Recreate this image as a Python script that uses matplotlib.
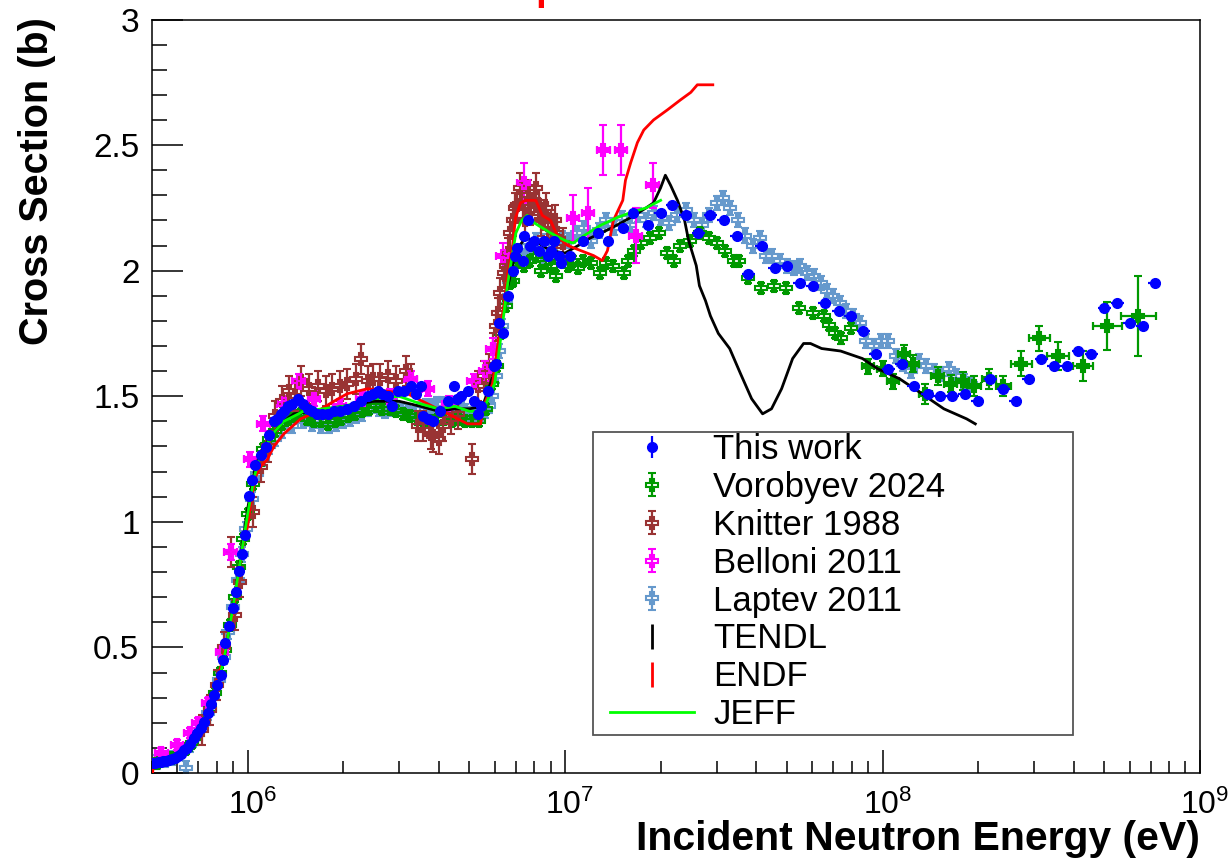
import numpy as np
import matplotlib
matplotlib.use("Agg")
import matplotlib.pyplot as plt
import matplotlib.transforms as mtransforms
from matplotlib.lines import Line2D
from matplotlib.patches import Rectangle
from matplotlib.ticker import LogLocator, MultipleLocator, NullFormatter
from matplotlib.container import ErrorbarContainer
from matplotlib.legend_handler import HandlerErrorbar

plt.rcParams['font.family'] = ['Liberation Sans', 'DejaVu Sans']
plt.rcParams['mathtext.default'] = 'regular'

# energies in MeV, cross sections in barn
this_e = [0.503, 0.512, 0.522, 0.532, 0.543, 0.554, 0.565, 0.577, 0.589, 0.602,
          0.615, 0.629, 0.643, 0.659, 0.676, 0.693, 0.711, 0.729, 0.748, 0.765,
          0.782, 0.804, 0.822, 0.834, 0.852, 0.871, 0.897, 0.917, 0.937, 0.957,
          0.979, 1.007, 1.029, 1.052, 1.099, 1.139, 1.164, 1.21, 1.24, 1.27,
          1.30, 1.34, 1.38, 1.44, 1.50, 1.55, 1.60, 1.66, 1.72, 1.79,
          1.87, 1.96, 2.05, 2.16, 2.27, 2.39, 2.48, 2.57, 2.66, 2.76,
          2.86, 2.97, 3.10, 3.26, 3.40, 3.51, 3.58, 3.70, 3.85, 4.05,
          4.27, 4.46, 4.58, 4.69, 4.93, 5.15, 5.30, 5.42, 5.70, 5.96,
          6.04, 6.18, 6.36, 6.59, 6.84, 6.98, 7.08, 7.35, 7.40, 7.62,
          7.78, 7.96, 8.25, 8.56, 8.81, 9.00, 9.20, 9.55, 9.69, 10.4,
          11.4, 12.7, 13.7, 15.2, 16.4, 18.2, 20.0, 21.8, 24.0, 26.3,
          28.7, 31.6, 34.7, 37.8, 41.6, 45.7, 49.9, 54.8, 60.2, 65.7,
          72.7, 79.3, 87.1, 95.1, 104.4, 114.8, 125.3, 138.6, 151.4, 166.1,
          181.3, 199.2, 218.8, 240.4, 262.4, 288.4, 316.7, 345.8, 380.2, 414,
          455, 500, 549, 600, 659, 719]
this_xs = [0.040, 0.041, 0.043, 0.044, 0.046, 0.049, 0.052, 0.056, 0.061, 0.067,
           0.075, 0.092, 0.100, 0.115, 0.139, 0.158, 0.179, 0.205, 0.239, 0.275,
           0.311, 0.351, 0.390, 0.450, 0.518, 0.586, 0.657, 0.721, 0.805, 0.873,
           0.948, 1.104, 1.167, 1.227, 1.267, 1.299, 1.347, 1.40, 1.41, 1.43,
           1.44, 1.46, 1.47, 1.49, 1.47, 1.45, 1.44, 1.43, 1.43, 1.43,
           1.44, 1.44, 1.45, 1.46, 1.48, 1.50, 1.51, 1.52, 1.51, 1.50,
           1.46, 1.52, 1.52, 1.54, 1.51, 1.54, 1.42, 1.41, 1.40, 1.44,
           1.48, 1.54, 1.49, 1.50, 1.52, 1.48, 1.43, 1.46, 1.52, 1.62,
           1.63, 1.79, 1.75, 1.90, 2.00, 2.06, 2.09, 2.04, 2.14, 2.20,
           2.10, 2.12, 2.08, 2.12, 2.06, 2.08, 2.12, 2.06, 2.03, 2.06,
           2.12, 2.15, 2.12, 2.17, 2.23, 2.18, 2.23, 2.26, 2.22, 2.15,
           2.22, 2.20, 2.14, 1.985, 2.10, 2.01, 2.02, 1.95, 1.94, 1.87,
           1.84, 1.82, 1.76, 1.67, 1.61, 1.63, 1.54, 1.51, 1.50, 1.50,
           1.51, 1.48, 1.57, 1.53, 1.48, 1.57, 1.65, 1.62, 1.62, 1.68,
           1.67, 1.85, 1.87, 1.79, 1.78, 1.95]
this_err = 0.015

vor_e = [0.52, 0.55, 0.58, 0.61, 0.64, 0.67, 0.70, 0.73, 0.76, 0.79,
         0.82, 0.85, 0.88, 0.91, 0.94, 0.97, 1.00, 1.04, 1.08, 1.12,
         1.17, 1.22, 1.28, 1.34, 1.40, 1.47, 1.54, 1.62, 1.70, 1.79,
         1.88, 1.97, 2.07, 2.18, 2.29, 2.41, 2.53, 2.66, 2.80, 2.94,
         3.09, 3.25, 3.42, 3.59, 3.78, 3.97, 4.17, 4.39, 4.61, 4.85,
         5.10, 5.36, 5.63, 5.90, 6.10, 6.30, 6.50, 6.70, 6.88, 7.13,
         7.45, 7.78, 8.10, 8.37, 8.70, 9.00, 9.35, 9.69, 10.2, 10.6,
         11.0, 11.4, 12.1, 12.9, 13.5, 14.2, 15.3, 15.8, 16.5, 17.3,
         18.5, 19.7, 21.0, 22.0, 23.1, 24.8, 26.7, 28.5, 30.2, 32.0,
         34.0, 35.2, 37.8, 41.3, 45.4, 49.5, 54.4, 60.2, 65.2, 67.6,
         71.1, 73.8, 79.3, 89.7, 100.7, 108, 116.5, 125, 136.5, 149,
         164, 179, 194, 216, 240, 274, 312, 358, 427, 511,
         640]
vor_xs = [0.04, 0.05, 0.06, 0.075, 0.095, 0.12, 0.155, 0.20, 0.255, 0.32,
          0.40, 0.49, 0.59, 0.70, 0.82, 0.93, 1.03, 1.15, 1.23, 1.29,
          1.33, 1.36, 1.39, 1.41, 1.42, 1.43, 1.41, 1.40, 1.40, 1.39,
          1.40, 1.41, 1.42, 1.43, 1.44, 1.45, 1.46, 1.45, 1.45, 1.44,
          1.43, 1.42, 1.41, 1.40, 1.40, 1.41, 1.41, 1.40, 1.41, 1.40,
          1.40, 1.40, 1.45, 1.55, 1.62, 1.75, 1.86, 1.95, 1.96, 2.04,
          2.02, 2.04, 2.06, 2.00, 2.03, 2.02, 1.98, 2.04, 2.02, 2.04,
          2.01, 2.04, 2.03, 1.99, 2.03, 2.02, 1.99, 2.04, 2.08, 2.11,
          2.13, 2.15, 2.07, 2.04, 2.10, 2.12, 2.15, 2.13, 2.11, 2.08,
          2.04, 2.04, 1.97, 1.93, 1.94, 1.93, 1.85, 1.83, 1.82, 1.785,
          1.75, 1.73, 1.77, 1.62, 1.61, 1.56, 1.67, 1.63, 1.51, 1.58,
          1.55, 1.56, 1.54, 1.57, 1.54, 1.63, 1.73, 1.66, 1.62, 1.78,
          1.82]
vor_err_high = [0.03, 0.03, 0.03, 0.035, 0.035, 0.04, 0.035, 0.035, 0.035, 0.04,
                0.04, 0.04, 0.05, 0.05, 0.055, 0.06, 0.095, 0.16]
# half width of the energy bins (decades) for the points above 80 MeV
vor_hw_high = [0.019, 0.019, 0.019, 0.019, 0.019, 0.02, 0.02, 0.02, 0.02, 0.022,
               0.022, 0.024, 0.032, 0.032, 0.035, 0.032, 0.046, 0.054]
vor_err = [0.02] * (len(vor_e) - len(vor_err_high)) + vor_err_high

kn_e = [0.72, 0.76, 0.80, 0.84, 0.885, 0.91, 0.95, 1.04, 1.10, 1.16,
        1.22, 1.28, 1.35, 1.41, 1.47, 1.56, 1.67, 1.76, 1.85, 1.96,
        2.06, 2.19, 2.27, 2.39, 2.49, 2.62, 2.76, 2.93, 3.15, 3.26,
        3.43, 3.58, 3.77, 3.85, 4.00, 4.14, 4.36, 4.59, 5.11, 5.30,
        5.54, 5.74, 5.95, 6.13, 6.26, 6.40, 6.59, 6.73, 6.88, 7.08,
        7.35, 7.62, 7.78, 7.96, 8.25, 8.56, 8.81, 9.14, 9.45, 9.82,
        6.05, 6.50, 6.95, 7.20, 7.50, 8.10, 8.40, 8.70, 9.00, 9.30]
kn_xs = [0.17, 0.25, 0.35, 0.50, 0.88, 0.63, 0.76, 1.04, 1.22, 1.30,
         1.42, 1.48, 1.52, 1.50, 1.56, 1.53, 1.54, 1.52, 1.53, 1.54,
         1.55, 1.57, 1.65, 1.56, 1.57, 1.57, 1.58, 1.56, 1.60, 1.57,
         1.38, 1.38, 1.35, 1.34, 1.33, 1.38, 1.41, 1.43, 1.25, 1.54,
         1.58, 1.61, 1.69, 1.83, 1.91, 1.99, 2.07, 2.15, 2.20, 2.26,
         2.27, 2.30, 2.24, 2.28, 2.26, 2.22, 2.18, 2.14, 2.15, 2.11,
         1.78, 2.02, 2.25, 2.33, 2.20, 2.33, 2.20, 2.25, 2.18, 2.20]
kn_err = 0.06

bel_e = [0.535, 0.60, 0.66, 0.70, 0.75, 0.83, 0.885, 1.02, 1.12, 1.30,
         1.45, 1.62, 1.95, 2.30, 2.80, 3.26, 3.70, 4.30, 5.15, 5.60,
         5.91, 6.36, 7.40, 10.6, 11.8, 13.2, 15.0, 16.7, 18.9]
bel_xs = [0.08, 0.11, 0.16, 0.20, 0.28, 0.48, 0.88, 1.25, 1.39, 1.47,
          1.56, 1.49, 1.46, 1.49, 1.50, 1.57, 1.53, 1.47, 1.56, 1.60,
          1.69, 2.06, 2.35, 2.21, 2.23, 2.48, 2.48, 2.14, 2.34]
bel_err = [0.02, 0.02, 0.02, 0.02, 0.02, 0.02, 0.03, 0.03, 0.03, 0.03,
           0.03, 0.03, 0.03, 0.03, 0.03, 0.03, 0.03, 0.03, 0.03, 0.04,
           0.04, 0.05, 0.08, 0.09, 0.10, 0.10, 0.10, 0.11, 0.09]

lap_e = [0.52, 0.55, 0.58, 0.61, 0.64, 0.66, 0.69, 0.72, 0.75, 0.78,
         0.81, 0.84, 0.87, 0.90, 0.93, 0.96, 0.99, 1.03, 1.07, 1.12,
         1.17, 1.22, 1.28, 1.38, 1.50, 1.60, 1.70, 1.80, 1.90, 2.0,
         2.1, 2.2, 2.3, 2.4, 2.5, 2.6, 2.7, 2.8, 2.9, 3.05,
         3.2, 3.35, 3.5, 3.65, 3.8, 3.95, 4.1, 4.25, 4.4, 4.55,
         4.7, 4.85, 5.0, 5.15, 5.3, 5.45, 5.6, 5.75, 5.9, 6.05,
         6.2, 6.35, 6.5, 6.65, 6.8, 6.95, 7.2, 7.5, 7.8, 8.1,
         8.5, 8.9, 9.3, 9.8, 10.3, 10.9, 11.5, 12.1, 12.8, 13.5,
         14.3, 15.1, 16.0, 17.0, 18.0, 19.0, 20.0, 21.2, 22.5, 24.0,
         25.5, 27.0, 28.5, 30.0, 31.5, 33.0, 35.0, 37.0, 39.0, 41.0,
         43, 45, 47.5, 50, 52.5, 55, 58, 61, 64, 67,
         70, 73.5, 77, 81, 85, 89, 94, 99, 104, 110,
         116, 123, 130, 137, 145, 153, 162, 171, 180, 190]
lap_xs = [0.045, 0.05, 0.06, 0.08, 0.02, 0.11, 0.14, 0.19, 0.24, 0.30,
          0.37, 0.46, 0.56, 0.66, 0.77, 0.87, 0.97, 1.09, 1.19, 1.25,
          1.30, 1.33, 1.36, 1.38, 1.40, 1.39, 1.38, 1.38, 1.39, 1.40,
          1.41, 1.42, 1.43, 1.45, 1.46, 1.45, 1.44, 1.45, 1.46, 1.45,
          1.44, 1.43, 1.45, 1.46, 1.46, 1.47, 1.47, 1.45, 1.44, 1.45,
          1.45, 1.44, 1.43, 1.42, 1.42, 1.43, 1.44, 1.46, 1.50, 1.58,
          1.68, 1.78, 1.88, 1.96, 2.03, 2.07, 2.08, 2.05, 2.10, 2.12,
          2.06, 2.14, 2.10, 2.13, 2.12, 2.15, 2.17, 2.12, 2.16, 2.20,
          2.17, 2.21, 2.18, 2.22, 2.20, 2.23, 2.21, 2.19, 2.22, 2.24,
          2.20, 2.18, 2.22, 2.27, 2.29, 2.25, 2.20, 2.14, 2.10, 2.13,
          2.06, 2.06, 2.04, 2.02, 2.01, 2.02, 1.99, 1.98, 1.95, 1.92,
          1.90, 1.87, 1.84, 1.82, 1.79, 1.72, 1.70, 1.72, 1.72, 1.66,
          1.63, 1.60, 1.64, 1.62, 1.60, 1.59, 1.61, 1.58, 1.56, 1.55]
lap_err = 0.028

tendl_e = [0.5, 0.55, 0.6, 0.65, 0.7, 0.75, 0.8, 0.85, 0.9, 0.95,
           1.0, 1.05, 1.1, 1.2, 1.3, 1.4, 1.6, 1.8, 2.0, 2.5,
           3.0, 3.5, 4.0, 4.5, 5.0, 5.5, 6.0, 6.5, 7.0, 7.5,
           8, 9, 10, 11, 12, 13, 14, 15, 16, 17,
           18, 19, 20, 20.7, 21.5, 22.6, 23.8, 24.5, 25.9, 26.5,
           27.7, 28.7, 30.4, 33.0, 35.7, 38.7, 41.9, 44.7, 48.1, 52.1,
           56.4, 59.3, 64.3, 73.8, 86.5, 96.4, 113, 133, 156, 184,
           196]
tendl_xs = [0.03, 0.045, 0.065, 0.10, 0.15, 0.23, 0.33, 0.48, 0.66, 0.86,
            1.05, 1.20, 1.28, 1.35, 1.40, 1.43, 1.44, 1.45, 1.46, 1.48,
            1.48, 1.46, 1.44, 1.45, 1.45, 1.46, 1.60, 1.90, 2.08, 2.13,
            2.12, 2.08, 2.07, 2.10, 2.13, 2.15, 2.17, 2.19, 2.21, 2.23,
            2.25, 2.27, 2.33, 2.38, 2.34, 2.28, 2.20, 2.12, 2.02, 1.94,
            1.88, 1.82, 1.75, 1.69, 1.59, 1.49, 1.43, 1.45, 1.53, 1.65,
            1.71, 1.71, 1.69, 1.68, 1.65, 1.61, 1.57, 1.51, 1.45, 1.41,
            1.39]

endf_e = [0.502, 0.505, 0.544, 0.629, 0.696, 0.748, 0.793, 0.834, 0.871, 0.904,
          0.937, 0.971, 1.0, 1.03, 1.06, 1.10, 1.156, 1.21, 1.30, 1.47,
          1.66, 1.87, 2.06, 2.39, 2.76, 3.19, 3.69, 4.27, 4.93, 5.42,
          5.54, 5.91, 6.04, 6.18, 6.40, 6.59, 6.84, 6.98, 7.24, 7.52,
          8.09, 8.48, 9.0, 9.45, 10.2, 11.2, 12.3, 13.1, 13.6, 14.2,
          15.2, 15.5, 16.1, 16.9, 17.7, 19.0, 21.0, 23.1, 24.9, 26.1,
          29.2]
endf_xs = [0.0, 0.03, 0.05, 0.09, 0.14, 0.21, 0.34, 0.45, 0.56, 0.65,
           0.80, 0.92, 0.98, 1.10, 1.18, 1.22, 1.25, 1.30, 1.35, 1.41,
           1.44, 1.48, 1.51, 1.53, 1.52, 1.51, 1.47, 1.43, 1.39, 1.39,
           1.46, 1.55, 1.64, 1.73, 1.85, 1.98, 2.10, 2.21, 2.27, 2.28,
           2.28, 2.22, 2.20, 2.14, 2.10, 2.08, 2.06, 2.04, 2.08, 2.20,
           2.28, 2.36, 2.43, 2.51, 2.56, 2.60, 2.64, 2.68, 2.71, 2.74,
           2.74]

jeff_e = [0.5, 0.6, 0.7, 0.8, 0.85, 0.9, 0.95, 1.0, 1.05, 1.1,
          1.2, 1.3, 1.5, 2.0, 2.5, 3.0, 3.5, 4.0, 4.5, 5.0,
          5.5, 6.0, 6.3, 6.6, 7.0, 7.3, 7.6, 8.0, 9.0, 10.0,
          10.6, 11.5, 12.9, 14.5, 16.0, 18.0, 20.0]
jeff_xs = [0.035, 0.07, 0.16, 0.33, 0.48, 0.66, 0.85, 1.03, 1.18, 1.27,
           1.35, 1.40, 1.44, 1.46, 1.49, 1.50, 1.47, 1.45, 1.46, 1.44,
           1.44, 1.55, 1.75, 1.95, 2.15, 2.20, 2.22, 2.19, 2.15, 2.12,
           2.11, 2.14, 2.18, 2.21, 2.23, 2.25, 2.28]

y_ticks = [0, 0.5, 1, 1.5, 2, 2.5, 3]
y_labels = ["0", "0.5", "1", "1.5", "2", "2.5", "3"]

MEV = 1e6


def log_xerr(e, hw):
    e = np.asarray(e, dtype=float)
    hw = np.asarray(hw, dtype=float)
    return [e * (1 - 10 ** -hw), e * (10 ** hw - 1)]


fig = plt.figure(figsize=(12.29, 8.59), dpi=100)
ax = fig.add_axes([152 / 1229, 1 - 773 / 859, 1048 / 1229, 753.5 / 859])

green = "#009900"
brown = "#993333"
magenta = "#ff00ff"
steel = "#6699cc"


def exp_set(e, xs, err, color, label, z):
    return ax.errorbar(np.array(e) * MEV, xs, yerr=err, fmt="P", ms=9,
                       mfc="none", mec=color, mew=1.5, ecolor=color,
                       elinewidth=1.6, capsize=3, capthick=1.6,
                       label=label, zorder=z)


h_lap = exp_set(lap_e, lap_xs, lap_err, steel, "Laptev 2011", 2.0)
h_vor = exp_set(vor_e, vor_xs, vor_err, green, "Vorobyev 2024", 2.1)
n_hi = len(vor_hw_high)
ax.errorbar(np.array(vor_e[-n_hi:]) * MEV, vor_xs[-n_hi:],
            xerr=log_xerr(np.array(vor_e[-n_hi:]) * MEV, vor_hw_high),
            fmt="none", ecolor=green, elinewidth=1.6, capsize=3, capthick=1.6,
            zorder=2.1)
h_kn = exp_set(kn_e, kn_xs, kn_err, brown, "Knitter 1988", 2.2)
h_bel = exp_set(bel_e, bel_xs, bel_err, magenta, "Belloni 2011", 2.3)
ax.errorbar(np.array(bel_e) * MEV, bel_xs,
            xerr=log_xerr(np.array(bel_e) * MEV, 0.02),
            fmt="none", ecolor=magenta, elinewidth=1.6, capsize=3,
            capthick=1.6, zorder=2.3)

ax.plot(np.array(tendl_e) * MEV, tendl_xs, color="black", lw=2, zorder=3)
ax.plot(np.array(endf_e) * MEV, endf_xs, color="red", lw=2, zorder=3.1)
ax.plot(np.array(jeff_e) * MEV, jeff_xs, color="#00ff00", lw=2, zorder=3.2)

h_this = ax.errorbar(np.array(this_e) * MEV, this_xs, yerr=this_err, fmt="o",
                     ms=7, color="blue", ecolor="blue", elinewidth=1.6,
                     capsize=0, label="This work", zorder=4)
hi = np.array(this_e) >= 20
ax.errorbar(np.array(this_e)[hi] * MEV, np.array(this_xs)[hi],
            xerr=log_xerr(np.array(this_e)[hi] * MEV, 0.02),
            fmt="none", ecolor="blue", elinewidth=1.6, capsize=0, zorder=4)

ax.set_xscale("log")
ax.set_xlim(5e5, 1e9)
ax.set_ylim(0, 3)
ax.xaxis.set_major_locator(LogLocator(base=10, numticks=10))
ax.xaxis.set_minor_locator(LogLocator(base=10, subs=np.arange(2, 10), numticks=40))
ax.xaxis.set_minor_formatter(NullFormatter())
ax.set_yticks(y_ticks)
ax.set_yticklabels(y_labels)
ax.yaxis.set_minor_locator(MultipleLocator(0.1))
ax.tick_params(which="both", direction="in", top=False, right=False,
               labelsize=24, width=1.1)
ax.tick_params(axis="x", which="major", labelsize=23)
ax.tick_params(axis="y", which="major", length=22, pad=9)
ax.tick_params(axis="y", which="minor", length=11)
ax.tick_params(axis="x", which="major", length=16.5, pad=12)
ax.tick_params(axis="x", which="minor", length=8.5)
for s in ax.spines.values():
    s.set_linewidth(1.1)

# ROOT puts the "10" under the tick, exponent to its right
shift = mtransforms.ScaledTranslation(3.5 / 72, 0, fig.dpi_scale_trans)
for lab in ax.get_xticklabels():
    lab.set_transform(lab.get_transform() + shift)

ax.set_xlabel("Incident Neutron Energy (eV)", fontsize=29.5, fontweight="bold",
              loc="right")
ax.xaxis.set_label_coords(1.0, -0.062)
ax.set_ylabel("Cross Section (b)", fontsize=28.5, fontweight="bold", loc="top")
ax.yaxis.set_label_coords(-0.092, 1.003)

# legend box drawn separately so the rows can sit close to its edges
ax.add_patch(Rectangle((0.4208, 0.0504), 0.458, 0.4021, transform=ax.transAxes,
                       facecolor="white", edgecolor="#555555", lw=1.3,
                       zorder=9))
h_tendl = Line2D([], [], color="black", marker="|", ms=18, mew=2, ls="none")
h_endf = Line2D([], [], color="red", marker="|", ms=18, mew=2, ls="none")
h_jeff = Line2D([], [], color="#00ff00", lw=2)
handles = [h_this, h_vor, h_kn, h_bel, h_lap, h_tendl, h_endf, h_jeff]
labels = ["This work", "Vorobyev 2024", "Knitter 1988", "Belloni 2011",
          "Laptev 2011", "TENDL", "ENDF", "JEFF"]
leg = ax.legend(handles, labels, loc="upper left",
                bbox_to_anchor=(0.437, 0.451), prop={"size": 25},
                frameon=False, borderpad=0, labelspacing=0.14,
                handlelength=2.42, handletextpad=0.55, borderaxespad=0,
                handler_map={ErrorbarContainer: HandlerErrorbar(xerr_size=0.33,
                                                                yerr_size=0.33)})
leg.set_zorder(10)

# title sits above the canvas, only its lower part shows
fig.text(535 / 1229, 1.0, "p", color="red", fontsize=28, fontweight="bold",
         va="baseline", ha="left")

fig.savefig("out.png", dpi=100)
